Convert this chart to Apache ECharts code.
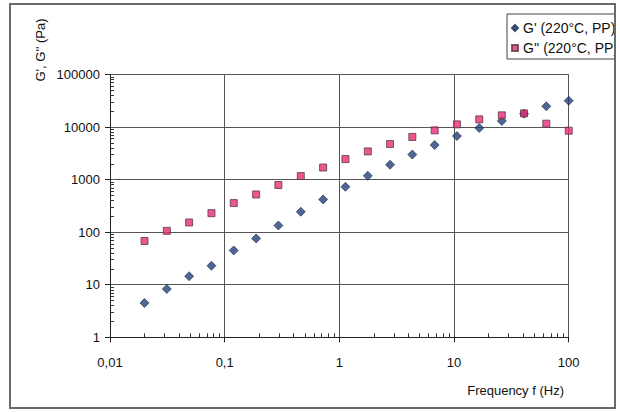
<!DOCTYPE html>
<html>
<head>
<meta charset="utf-8">
<script src="https://cdn.jsdelivr.net/npm/echarts@6/dist/echarts.min.js"></script>
<style>
html,body{margin:0;padding:0;background:#fff;}
#chart{width:620px;height:412px;}
</style>
</head>
<body>
<div id="chart"></div>
<script>
// Frequency (Hz)
const frequency = [0.02, 0.0313, 0.049, 0.0767, 0.12, 0.188, 0.294, 0.461, 0.722, 1.13,
                   1.77, 2.77, 4.33, 6.78, 10.6, 16.6, 26.1, 40.8, 63.8, 100];
// G' storage modulus (Pa)
const gPrime = [4.5, 8.3, 14.5, 23, 45, 76, 134, 245, 420, 730,
                1180, 1920, 3000, 4550, 6750, 9600, 13000, 18000, 24800, 31800];
// G'' loss modulus (Pa)
const gDoublePrime = [68, 106, 153, 230, 358, 522, 790, 1170, 1700, 2460,
                      3440, 4760, 6480, 8650, 11250, 14000, 16700, 18200, 11600, 8520];

const seriesNames = ["G' (220°C, PP)", "G'' (220°C, PP)"];
const xTickLabels = ['0,01', '0,1', '1', '10', '100'];
const yTickLabels = ['1', '10', '100', '1000', '10000', '100000'];
const xAxisTitle = 'Frequency f (Hz)';
const yAxisTitle = "G', G'' (Pa)";

// minor log ticks 2..9 in every decade
const xMinor = [], yMinor = [];
for (let e = -2; e < 2; e++) for (let m = 2; m <= 9; m++) xMinor.push(m * Math.pow(10, e));
for (let e = 0; e < 5; e++) for (let m = 2; m <= 9; m++) yMinor.push(m * Math.pow(10, e));

const FONT = "'Liberation Sans', Arial, Helvetica, sans-serif";
const chart = echarts.init(document.getElementById('chart'), null, {renderer: 'svg'});

const xLbl = v => xTickLabels[Math.round(Math.log10(v)) + 2] || '';
const yLbl = v => yTickLabels[Math.round(Math.log10(v))] || '';

chart.setOption({
  animation: false,
  backgroundColor: '#fff',
  grid: {left: 110, right: 51.3, top: 74.5, bottom: 74.7},
  legend: {
    orient: 'vertical', left: 507, top: 14,
    padding: [7, 12, 4, 4], itemGap: 6, itemWidth: 6, itemHeight: 6,
    borderColor: '#444', borderWidth: 1, borderRadius: 0,
    textStyle: {fontSize: 14, fontFamily: FONT, color: '#111'},
    data: [{name: seriesNames[0], icon: 'diamond'}, {name: seriesNames[1], icon: 'rect'}]
  },
  xAxis: [{
    type: 'log', logBase: 10, min: 0.01, max: 100,
    axisLine: {show: true, lineStyle: {color: '#222', width: 1}},
    axisTick: {show: true, inside: false, length: 5, lineStyle: {color: '#222'}},
    axisLabel: {formatter: xLbl, fontSize: 13, fontFamily: FONT, color: '#111', margin: 19},
    splitLine: {show: true, lineStyle: {color: '#555', width: 1}},
    minorTick: {show: false}
  }, {
    type: 'log', logBase: 10, min: 0.01, max: 100, position: 'bottom',
    axisLine: {show: false},
    axisTick: {show: true, inside: true, length: 4, customValues: xMinor, lineStyle: {color: '#333'}},
    axisLabel: {show: false},
    splitLine: {show: false}
  }],
  yAxis: [{
    type: 'log', logBase: 10, min: 1, max: 100000,
    axisLine: {show: true, lineStyle: {color: '#222', width: 1}},
    axisTick: {show: true, inside: false, length: 5, lineStyle: {color: '#222'}},
    axisLabel: {formatter: yLbl, fontSize: 13, fontFamily: FONT, color: '#111', margin: 10},
    splitLine: {show: true, lineStyle: {color: '#555', width: 1}}
  }, {
    type: 'log', logBase: 10, min: 1, max: 100000, position: 'left',
    axisLine: {show: false},
    axisTick: {show: true, inside: true, length: 4, customValues: yMinor, lineStyle: {color: '#333'}},
    axisLabel: {show: false},
    splitLine: {show: false}
  }],
  series: [{
    name: seriesNames[0], type: 'scatter', symbol: 'diamond', symbolSize: 9,
    xAxisIndex: 0, yAxisIndex: 0, clip: false,
    itemStyle: {color: '#24417a', borderColor: '#1a2a4a', borderWidth: 0.8},
    data: frequency.map((f, i) => [f, gPrime[i]])
  }, {
    name: seriesNames[1], type: 'scatter', symbol: 'rect', symbolSize: 7,
    xAxisIndex: 0, yAxisIndex: 0, clip: false,
    itemStyle: {color: '#e82a78', borderColor: '#5a3a45', borderWidth: 1},
    data: frequency.map((f, i) => [f, gDoublePrime[i]])
  }],
  graphic: [
    {type: 'text', x: 40, y: 50, rotation: Math.PI / 2, z: 100,
     style: {text: yAxisTitle, font: '13px ' + FONT, fill: '#111',
             textAlign: 'center', textVerticalAlign: 'middle', align: 'center', verticalAlign: 'middle'}},
    {type: 'text', x: 564, y: 390, z: 100,
     style: {text: xAxisTitle, font: '13px ' + FONT, fill: '#111',
             textAlign: 'right', textVerticalAlign: 'middle', align: 'right', verticalAlign: 'middle'}},
    {type: 'rect', z: 100, shape: {x: 616, y: 0, width: 10, height: 412}, style: {fill: '#fff'}},
    {type: 'rect', z: 101, shape: {x: 10, y: 4, width: 605, height: 404},
     style: {fill: 'none', stroke: '#6a6a6a', lineWidth: 2}}
  ]
});
</script>
</body>
</html>
